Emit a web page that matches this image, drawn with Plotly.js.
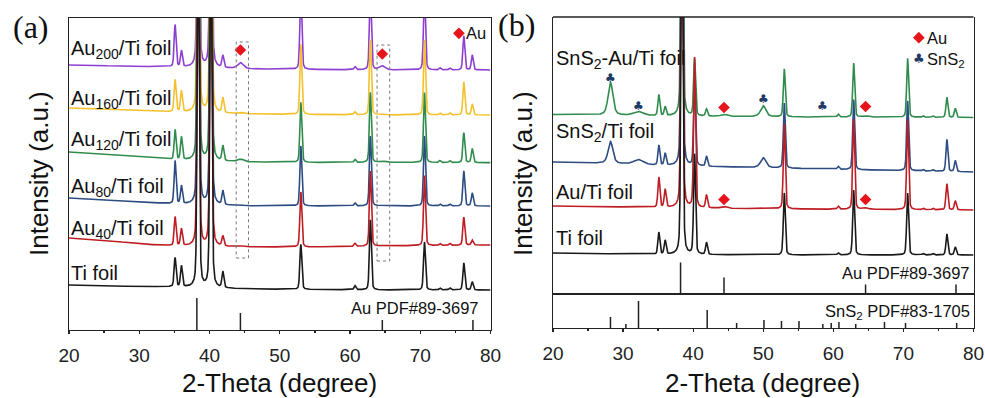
<!DOCTYPE html>
<html><head><meta charset="utf-8">
<script src="https://cdn.plot.ly/plotly-3.0.1.min.js"></script>
<style>html,body{margin:0;padding:0;background:#fff}#chart{width:985px;height:398px}</style>
</head><body><div id="chart"></div>
<script>
// ================= DATA =================
// 2-theta positions of the substrate reflections seen in every pattern
const tiPeakPos = [35.1, 36.0, 38.4, 40.2, 41.9, 53.0, 60.7, 62.9, 70.6, 72.8, 74.2, 76.2, 77.4];
// broad Au and SnS2 reflections
const auBumpPos = [44.4, 64.6];
const auBumpWidth = [0.5, 0.5];
const sns2BumpPos = [28.2, 32.2, 50.0];
const sns2BumpWidth = [0.4, 0.8, 0.45];
// background anchor angles
const bgAnchor = [20, 25, 30, 35, 45, 55, 65, 80];

// ---- panel (a): peak heights (aligned with tiPeakPos), background, Au bumps ----
const tiA_H    = [29, 21, 400, 400, 16, 45, 4, 70, 48, 2, 2, 27, 8];
const tiA_Bg   = [45, 44, 43.5, 43, 41, 40.5, 40, 40];
const tiA_Au   = [0, 0];
const au40_H   = [29, 17, 400, 400, 10, 55, 3, 75, 70, 2, 2, 28, 5];
const au40_Bg  = [92, 90, 86, 84, 83, 83, 84, 85];
const au40_Au  = [1, 0.5];
const au80_H   = [43, 18, 400, 400, 14, 60, 3, 70, 70, 2, 2, 35, 13];
const au80_Bg  = [132, 130, 128, 126, 124, 124, 124, 124];
const au80_Au  = [1, 0.5];
const au120_H  = [30, 23, 400, 400, 15, 60, 3, 70, 70, 2, 2, 30, 14];
const au120_Bg = [178, 176, 173.5, 170, 168, 167.5, 167.5, 167.3];
const au120_Au = [2.5, 1.5];
const au160_H  = [32, 21, 400, 400, 15, 70, 3, 75, 75, 2, 2, 33, 11];
const au160_Bg = [222, 221, 219, 218, 216, 215.5, 215, 215];
const au160_Au = [1.5, 1];
const au200_H  = [42, 16, 400, 400, 12, 80, 3, 80, 80, 2, 2, 34, 15];
const au200_Bg = [265, 264.3, 263.5, 263, 261, 260.5, 260, 260];
const au200_Au = [6, 4];

// ---- panel (b) ----
const tiB_H      = [22, 14, 400, 100, 12, 62, 2, 65, 62, 1.5, 1.5, 21, 8];
const tiB_Bg     = [41.5, 41, 40.5, 40, 39.7, 39.5, 39.5, 39.5];
const auTiB_H    = [30, 18, 400, 150, 13, 85, 3, 90, 90, 1.5, 1.5, 26, 9];
const auTiB_Bg   = [88.5, 88, 87.5, 87, 86, 85.5, 85, 84.5];
const auTiB_Au   = [2, 1.5];
const sns2B_H    = [20, 12, 400, 85, 10, 65, 3, 70, 70, 1.5, 1.5, 32, 11];
const sns2B_Bg   = [132.5, 131.5, 130.5, 129, 127.5, 126, 124.5, 122.5];
const sns2B_Sn   = [22, 5, 10];
const sns2AuB_H  = [21, 9, 400, 57, 7, 48, 3, 54, 59, 1.5, 1.5, 20, 9];
const sns2AuB_Bg = [180, 179.5, 179, 178.5, 178, 177.5, 177.3, 177];
const sns2AuB_Au = [2, 1.5];
const sns2AuB_Sn = [33, 4, 11];

// ---- reference cards ----
const auRefPos = [38.2, 44.4, 64.6, 77.5];
const auRefH   = [32, 17, 10, 10];
const sns2RefPos = [28.2, 30.4, 32.2, 42.0, 46.2, 50.1, 52.6, 55.1, 58.5, 59.7, 60.8, 63.2, 67.3, 70.3, 77.6];
const sns2RefH   = [11, 4, 27, 18, 5, 8, 7, 7, 4, 5, 6, 4, 6, 5, 5];

// ---- labels ----
const aLabels = ['Au<sub>200</sub>/Ti foil', 'Au<sub>160</sub>/Ti foil', 'Au<sub>120</sub>/Ti foil', 'Au<sub>80</sub>/Ti foil', 'Au<sub>40</sub>/Ti foil', 'Ti foil'];
const bLabels = ['SnS<sub>2</sub>-Au/Ti foil', 'SnS<sub>2</sub>/Ti foil', 'Au/Ti foil', 'Ti foil'];
const aColors = ['#8e3fd2', '#f4c12c', '#2f8c4c', '#2c4c82', '#bf1d24', '#1a1a1a'];
const bColors = ['#2f8c4c', '#2c4c82', '#bf1d24', '#1a1a1a'];
const tickVals = [20, 30, 40, 50, 60, 70, 80];

// ================= RENDERING =================
const W = 985, H = 398;
const fx = v => v / W, fy = v => 1 - v / H;
const FONT = 'Liberation Sans, Arial, Helvetica, sans-serif';
const INK = '#222';

const grid = [];
for (let i = 0; i <= 3000; i++) grid.push(20 + i * 0.02);

function bgAt(x, bg) {
  for (let i = 0; i < bgAnchor.length - 1; i++) {
    if (x <= bgAnchor[i + 1]) {
      const t = (x - bgAnchor[i]) / (bgAnchor[i + 1] - bgAnchor[i]);
      return bg[i] + t * (bg[i + 1] - bg[i]);
    }
  }
  return bg[bg.length - 1];
}
function line(x, p, h, w, eta) {
  const d = (x - p) / w;
  return h * (eta / (1 + d * d) + (1 - eta) * Math.exp(-0.6931 * d * d));
}
function pattern(heights, bg, auH, snH) {
  return grid.map(x => {
    let y = bgAt(x, bg);
    tiPeakPos.forEach((p, i) => { y += line(x, p, heights[i], 0.16, 0.3); });
    if (auH) auBumpPos.forEach((p, i) => { y += line(x, p, auH[i], auBumpWidth[i], 0.5); });
    if (snH) sns2BumpPos.forEach((p, i) => { y += line(x, p, snH[i], sns2BumpWidth[i], 0.5); });
    return y;
  });
}
function sticks(pos, h) {
  const xs = [], ys = [];
  pos.forEach((p, i) => { xs.push(p, p, null); ys.push(0, h[i], null); });
  return {xs, ys};
}

const aSeries = [
  [au200_H, au200_Bg, au200_Au], [au160_H, au160_Bg, au160_Au], [au120_H, au120_Bg, au120_Au],
  [au80_H, au80_Bg, au80_Au], [au40_H, au40_Bg, au40_Au], [tiA_H, tiA_Bg, tiA_Au]
];
const bSeries = [
  [sns2AuB_H, sns2AuB_Bg, sns2AuB_Au, sns2AuB_Sn], [sns2B_H, sns2B_Bg, null, sns2B_Sn],
  [auTiB_H, auTiB_Bg, auTiB_Au, null], [tiB_H, tiB_Bg, null, null]
];

const traces = [];
aSeries.forEach((s, i) => traces.push({
  type: 'scatter', mode: 'lines', x: grid, y: pattern(s[0], s[1], s[2], null),
  xaxis: 'x', yaxis: 'y', line: {color: aColors[i], width: 1.6}, hoverinfo: 'skip', name: aLabels[i]
}));
bSeries.forEach((s, i) => traces.push({
  type: 'scatter', mode: 'lines', x: grid, y: pattern(s[0], s[1], s[2], s[3]),
  xaxis: 'x2', yaxis: 'y3', line: {color: bColors[i], width: 1.6}, hoverinfo: 'skip', name: bLabels[i]
}));
const sa = sticks(auRefPos, auRefH);
traces.push({type: 'scatter', mode: 'lines', x: sa.xs, y: sa.ys, xaxis: 'x', yaxis: 'y', line: {color: INK, width: 1.5}, hoverinfo: 'skip'});
traces.push({type: 'scatter', mode: 'lines', x: sa.xs, y: sa.ys, xaxis: 'x2', yaxis: 'y3', line: {color: INK, width: 1.5}, hoverinfo: 'skip'});
const ss = sticks(sns2RefPos, sns2RefH);
traces.push({type: 'scatter', mode: 'lines', x: ss.xs, y: ss.ys, xaxis: 'x2', yaxis: 'y4', line: {color: INK, width: 1.5}, hoverinfo: 'skip'});

// red diamond markers
const diamondA_Y = [280, 276];          // panel (a), above the dashed boxes
const diamondB_Y = [187, 188];          // panel (b), SnS2-Au trace
const diamondB2_Y = [95, 95];           // panel (b), Au/Ti trace
const RED = '#e8141c';
traces.push({type: 'scatter', mode: 'markers', x: auBumpPos.concat([75.5]), y: diamondA_Y.concat([296.7]), xaxis: 'x', yaxis: 'y',
  marker: {symbol: 'diamond', size: 9, color: RED}, hoverinfo: 'skip'});
traces.push({type: 'scatter', mode: 'markers', x: auBumpPos.concat(auBumpPos, [72.2]), y: diamondB_Y.concat(diamondB2_Y, [256.8]), xaxis: 'x2', yaxis: 'y3',
  marker: {symbol: 'diamond', size: 9, color: RED}, hoverinfo: 'skip'});

const clubPos = [28.2, 32.2, 50.0, 58.5];
const clubY = [216.5, 189, 196, 188.5];
const NAVY = '#1f3a66';

const axCommon = {range: [20, 80], showgrid: false, zeroline: false, fixedrange: true};
const xMain = (dom, anchor) => Object.assign({}, axCommon, {
  domain: dom, anchor: anchor, showline: true, mirror: true, linecolor: INK, linewidth: 1.3,
  ticks: 'outside', ticklen: 3, tickwidth: 1.3, tickcolor: INK, tickmode: 'array', tickvals: tickVals,
  ticktext: tickVals.map(String), tickfont: {family: FONT, size: 19, color: INK}, ticklabelstandoff: 5,
  minor: {tickmode: 'array', tickvals: [25, 35, 45, 55, 65, 75], ticks: 'outside', ticklen: 2, tickwidth: 1.3, tickcolor: INK}
});
const xOver = (dom, over, anchor) => Object.assign({}, axCommon, {
  domain: dom, overlaying: over, anchor: anchor, showline: false, showticklabels: false,
  ticks: 'inside', ticklen: 3, tickwidth: 1.3, tickcolor: INK, tickmode: 'array', tickvals: tickVals,
  minor: {tickmode: 'array', tickvals: [25, 35, 45, 55, 65, 75], ticks: 'inside', ticklen: 3, tickwidth: 1.3, tickcolor: INK}
});
const yBox = (dom, range, anchor) => ({
  domain: dom, range: range, anchor: anchor, showline: true, mirror: true, linecolor: INK, linewidth: 1.3,
  ticks: '', showticklabels: false, showgrid: false, zeroline: false, fixedrange: true
});

const domA = [fx(69), fx(490.5)], domB = [fx(553), fx(973.5)];

const ann = [];
const txt = (text, x, y, opt) => ann.push(Object.assign({
  text: text, x: fx(x), y: fy(y), xref: 'paper', yref: 'paper', showarrow: false,
  xanchor: 'left', yanchor: 'middle', borderpad: 0, font: {family: FONT, size: 20, color: '#111'}
}, opt || {}));
const aLabelY = [50, 99, 141, 187, 229, 273];
aLabels.forEach((t, i) => txt(t, 70, aLabelY[i]));
const bLabelY = [60, 132, 192, 238];
bLabels.forEach((t, i) => txt(t, 555, bLabelY[i]));
txt('Au PDF#89-3697', 480, 308, {xanchor: 'right', font: {family: FONT, size: 16.5, color: '#111'}});
txt('Au PDF#89-3697', 971, 273, {xanchor: 'right', font: {family: FONT, size: 16.5, color: '#111'}});
txt('SnS<sub>2</sub> PDF#83-1705', 971, 312, {xanchor: 'right', font: {family: FONT, size: 16.5, color: '#111'}});
txt('Au', 465, 33, {font: {family: FONT, size: 16.5, color: '#111'}});
txt('Au', 926, 38, {font: {family: FONT, size: 16.5, color: '#111'}});
txt('SnS<sub>2</sub>', 926, 60, {font: {family: FONT, size: 16.5, color: '#111'}});
txt('(a)', 31, 27, {xanchor: 'center', font: {family: 'Liberation Serif, Times New Roman, serif', size: 32, color: '#111'}});
txt('(b)', 516, 25, {xanchor: 'center', font: {family: 'Liberation Serif, Times New Roman, serif', size: 32, color: '#111'}});
txt('2-Theta (degree)', 279, 383, {xanchor: 'center', font: {family: FONT, size: 26, color: '#111'}});
txt('2-Theta (degree)', 762, 383, {xanchor: 'center', font: {family: FONT, size: 26, color: '#111'}});
txt('Intensity (a.u.)', 39, 174, {xanchor: 'center', textangle: -90, font: {family: FONT, size: 26, color: '#111'}});
txt('Intensity (a.u.)', 523, 174, {xanchor: 'center', textangle: -90, font: {family: FONT, size: 26, color: '#111'}});
clubPos.forEach((p, i) => ann.push({text: '♣', x: p, y: clubY[i], xref: 'x2', yref: 'y3', showarrow: false, borderpad: 0,
  xanchor: 'center', yanchor: 'middle', font: {family: 'DejaVu Sans', size: 12, color: NAVY}}));
ann.push({text: '♣', x: 72.2, y: 236.2, xref: 'x2', yref: 'y3', showarrow: false, borderpad: 0, xanchor: 'center', yanchor: 'middle',
  font: {family: 'DejaVu Sans', size: 13, color: NAVY}});

const dash = {color: '#777', width: 1, dash: 'dot'};
const shapes = [
  {type: 'rect', xref: 'x', yref: 'y', x0: 43.8, x1: 45.55, y0: 72, y1: 288, line: dash},
  {type: 'rect', xref: 'x', yref: 'y', x0: 63.85, x1: 65.65, y0: 69, y1: 285, line: dash},
  // top border of panel (b) frame
  {type: 'line', xref: 'paper', yref: 'paper', x0: domB[0], x1: domB[1], y0: fy(17), y1: fy(17), line: {color: INK, width: 1.3}}
];

const layout = {
  width: W, height: H, margin: {l: 0, r: 0, t: 0, b: 0}, paper_bgcolor: '#fff', plot_bgcolor: 'rgba(0,0,0,0)',
  showlegend: false, annotations: ann, shapes: shapes,
  xaxis: xMain(domA, 'y'),
  xaxis3: xOver(domA, 'x', 'y'),
  yaxis: yBox([fy(330), fy(18)], [0, 312], 'x'),
  xaxis2: xMain(domB, 'y4'),
  xaxis4: xOver(domB, 'x2', 'y4'),
  yaxis3: yBox([fy(294.5), fy(17)], [0, 277.5], 'x2'),
  yaxis4: yBox([fy(328), fy(294.5)], [0, 33.5], 'x2')
};
Plotly.newPlot('chart', traces, layout, {staticPlot: true, displayModeBar: false});
</script>
</body></html>
